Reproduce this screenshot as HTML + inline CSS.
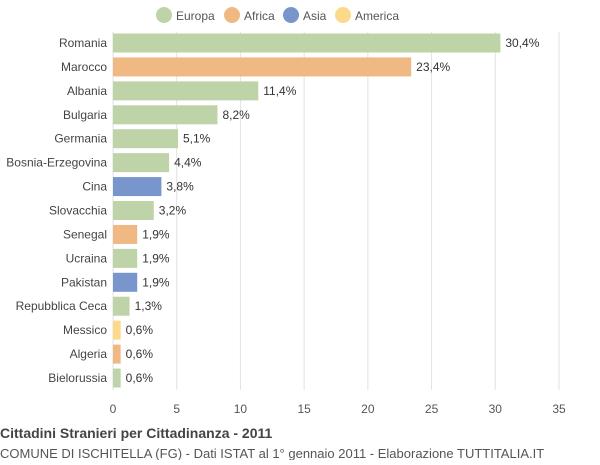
<!DOCTYPE html>
<html><head><meta charset="utf-8"><style>
body{margin:0;background:#fff;font-family:"Liberation Sans",sans-serif;}
svg text{font-family:"Liberation Sans",sans-serif;}
</style></head><body>
<svg id="chart" width="600" height="460">
<g id="legend"></g>
<g id="grid"></g>
<g id="bars"></g>
<g id="axis"></g>
<text x="0" y="438" font-size="14" font-weight="bold" fill="#444">Cittadini Stranieri per Cittadinanza - 2011</text>
<text x="0" y="458" font-size="13" fill="#555">COMUNE DI ISCHITELLA (FG) - Dati ISTAT al 1° gennaio 2011 - Elaborazione TUTTITALIA.IT</text>
</svg>
<script>
const categories=["Romania","Marocco","Albania","Bulgaria","Germania","Bosnia-Erzegovina","Cina","Slovacchia","Senegal","Ucraina","Pakistan","Repubblica Ceca","Messico","Algeria","Bielorussia"];
const values=[30.4,23.4,11.4,8.2,5.1,4.4,3.8,3.2,1.9,1.9,1.9,1.3,0.6,0.6,0.6];
const groups=["Europa","Africa","Europa","Europa","Europa","Europa","Asia","Europa","Africa","Europa","Asia","Europa","America","Africa","Europa"];
const legendNames=["Europa","Africa","Asia","America"];
const ticks=[0,5,10,15,20,25,30,35];
const colors={Europa:"#bfd3a8",Africa:"#f0b882",Asia:"#7895cc",America:"#fdd98b"};
const NS="http://www.w3.org/2000/svg";
const x0=113,x1=559,xmax=35,yTop=43,step=23.93,bh=19;
const xs=v=>x0+v/xmax*(x1-x0);
const ys=i=>yTop+i*step;
function mk(t,a,p){const e=document.createElementNS(NS,t);for(const k in a)e.setAttribute(k,a[k]);p.appendChild(e);return e;}
const grid=document.getElementById('grid'),axis=document.getElementById('axis'),bars=document.getElementById('bars'),leg=document.getElementById('legend');
ticks.forEach(t=>{
 const l=mk('line',{x1:xs(t),x2:xs(t),y1:32,y2:390,stroke:"#e2e2e2"},grid);
 
 
 const tx=mk('text',{x:xs(t),y:413,'font-size':12,fill:"#555",'text-anchor':'middle'},axis);
 tx.textContent=t;
 
 
});
categories.forEach((c,i)=>{
 const y=ys(i);
 const r=mk('rect',{x:x0,y:y-bh/2,width:xs(values[i])-x0,height:bh,fill:colors[groups[i]]},bars);
 
 
 const lb=mk('text',{x:107,y:y+4,'font-size':12,fill:"#444",'text-anchor':'end'},bars);
 lb.textContent=c;
 
 
 const vl=mk('text',{x:xs(values[i])+5,y:y+4,'font-size':12,fill:"#333"},bars);
 vl.textContent=values[i].toFixed(1).replace('.',',')+'%';
 
 
});
const lx=[164,232,291,343];
legendNames.forEach((n,i)=>{
 const c=mk('circle',{cx:lx[i],cy:15,r:8,fill:colors[n]},leg);
 
 
 const t=mk('text',{x:lx[i]+12,y:20,'font-size':12,fill:"#555"},leg);
 t.textContent=n;
 
 
});
</script>
</body></html>
